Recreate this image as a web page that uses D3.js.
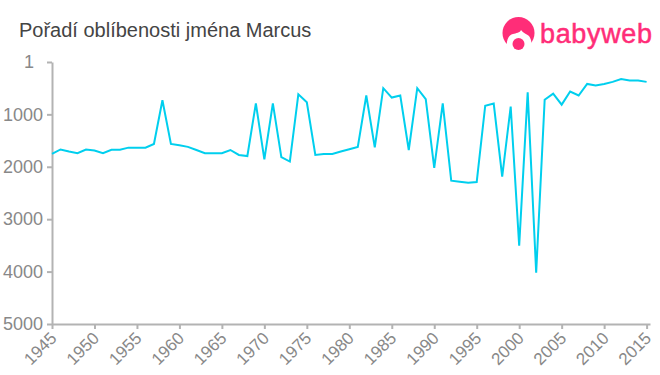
<!DOCTYPE html>
<html><head><meta charset="utf-8">
<script src="https://cdn.jsdelivr.net/npm/d3@7"></script>
<style>
html,body{margin:0;padding:0;background:#fff}
svg{display:block}
text{font-family:"Liberation Sans",Arial,sans-serif}
</style></head><body>
<svg id="c" width="660" height="375"></svg>
<script>
const titleText = "Pořadí oblíbenosti jména Marcus";
const brand = "babyweb";
const years = d3.range(1945, 2016);
const ranks = [1755,1670,1710,1740,1670,1690,1740,1675,1675,1635,1635,1635,1565,730,1565,1590,1620,1680,1740,1740,
1740,1680,1775,1795,790,1860,790,1815,1900,617,770,1775,1755,1755,1710,1665,1620,640,1630,500,
680,640,1680,500,710,2020,790,2265,2285,2305,2290,835,795,2190,850,3505,580,4020,720,605,
815,565,640,420,450,420,380,325,355,355,380];
const yTicks = [1,1000,2000,3000,4000,5000];
const xTicks = d3.range(1945, 2016, 5);

const svg = d3.select("#c");
const x = d3.scaleLinear().domain([1945,2015.4]).range([52,650]);
const y = d3.scaleLinear().domain([1,5000]).range([62,324]);

svg.append("text").attr("x",19).attr("y",37).attr("font-size",20).attr("fill","#444").text(titleText);

const gy = svg.append("g").attr("transform","translate(52,0)")
  .call(d3.axisLeft(y).tickValues(yTicks).tickFormat(d3.format("d")).tickSize(5).tickSizeOuter(0).tickPadding(4));
const gx = svg.append("g").attr("transform","translate(0,324)")
  .call(d3.axisBottom(x).tickValues(xTicks).tickFormat(d3.format("d")).tickSize(5).tickSizeOuter(0));
[gy,gx].forEach(g=>{
  g.selectAll(".domain").attr("stroke","#b3b3b3").attr("stroke-width",2);
  g.selectAll(".tick line").attr("stroke","#b3b3b3").attr("stroke-width",2);
  g.selectAll("text").attr("fill","#888").attr("font-family",'"Liberation Sans",Arial,sans-serif');
});
gy.selectAll("text").attr("font-size",18);
gy.selectAll("text").filter(d=>d===1).attr("dx",-9);
gx.selectAll("text").attr("font-size",17).attr("x",0).attr("y",0).attr("dy","0.35em").attr("text-anchor","end")
  .attr("transform","translate(1,11) rotate(-45)");

svg.append("path").datum(ranks)
  .attr("fill","none").attr("stroke","#00cfee").attr("stroke-width",2).attr("stroke-linejoin","miter")
  .attr("d",d3.line().x((d,i)=>x(years[i])).y(d=>y(d)));

// logo
const logo = svg.append("g");
logo.append("circle").attr("cx",518.5).attr("cy",33).attr("r",16).attr("fill","#ff2d78");
logo.append("path").attr("fill","#fff").attr("d","M507 49 C506 41 508 35 513 34 C516 33 520 33 521 30 C523 33 527 34 529 36 C532 40 532 45 530 49 Z");
logo.append("circle").attr("cx",518.5).attr("cy",44).attr("r",6).attr("fill","#ff2d78");
svg.append("text").attr("x",540).attr("y",43).attr("font-size",27).attr("font-family","Lato, sans-serif").attr("fill","#ff2d78").attr("stroke","#ff2d78").attr("stroke-width",0.5).attr("textLength",112).attr("lengthAdjust","spacing").text(brand);
</script>
</body></html>
